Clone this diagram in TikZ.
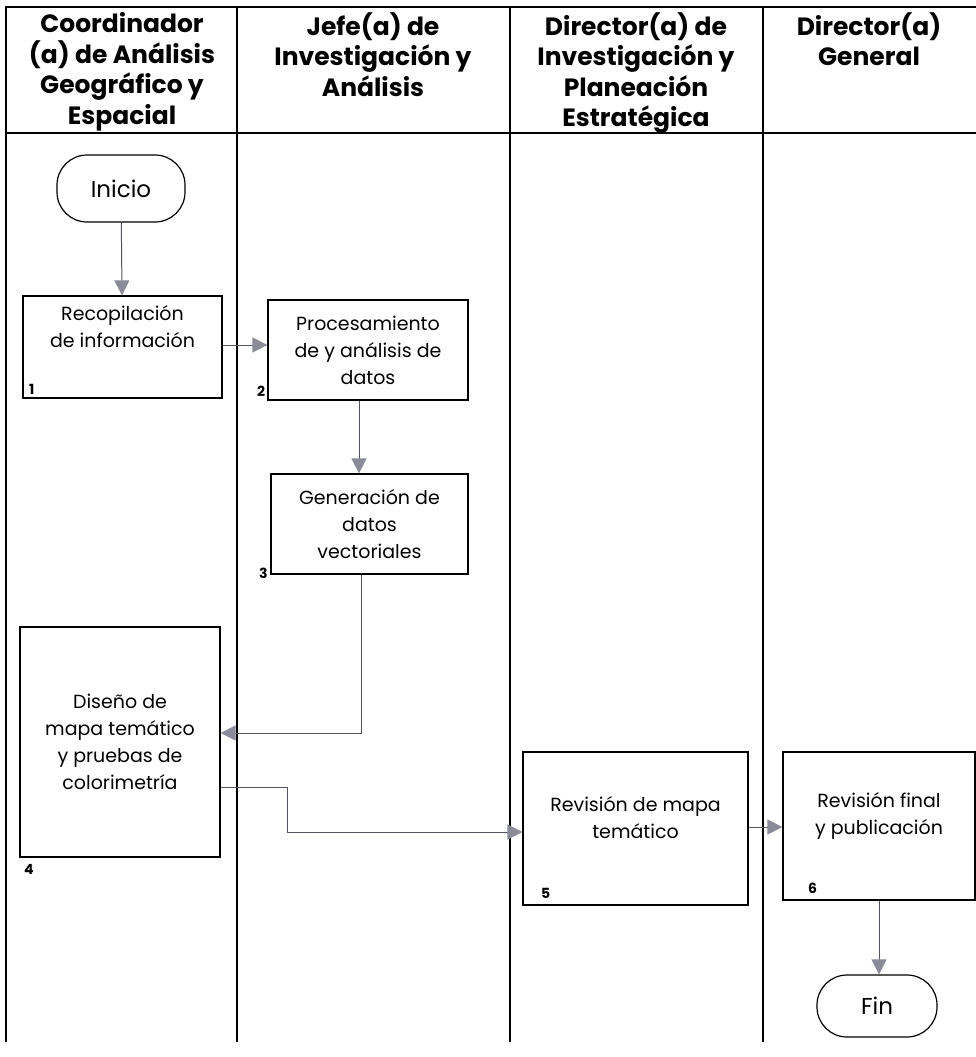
\documentclass[tikz,border=0pt]{standalone}
\usepackage{fontspec}
\setmainfont{Poppins}
\usetikzlibrary{arrows.meta,positioning}
\definecolor{arrowgray}{HTML}{8A8A98}
\definecolor{linegray}{HTML}{555560}
\tikzset{
  lane/.style={line width=1.8pt,black},
  bodyfont/.style={font=\fontsize{19}{27}\selectfont},
  procbox/.style={draw=black,line width=1.2pt,align=center,inner sep=2pt,bodyfont},
  plaintext/.style={align=center,bodyfont,anchor=north},
  termbox/.style={draw=black,line width=1.2pt,rounded corners=30pt,align=center,font=\fontsize{23}{28}\selectfont},
  hdr/.style={anchor=north,align=center,font=\fontsize{25}{30.5}\selectfont\bfseries},
  numlbl/.style={font=\fontsize{14}{14}\selectfont\bfseries,inner sep=0pt},
  conn/.style={draw=linegray,line width=1pt,-{Triangle[length=15pt,width=15pt,fill=arrowgray,color=arrowgray]}},
}
\begin{document}
\begin{tikzpicture}[x=1pt,y=-1pt]
\useasboundingbox (0,0) rectangle (976,1057);
% lanes
\draw[lane] (976,7) -- (6,7) -- (6,1042);
\draw[lane] (6,133) -- (976,133);
\draw[lane] (237,7) -- (237,1042);
\draw[lane] (510,7) -- (510,1042);
\draw[lane] (763,7) -- (763,1042);
% headers
\node[hdr] (h1) at (122,9) {Coordinador\\(a) de Análisis\\Geográfico y\\Espacial};
\node[hdr] (h2) at (373,9) {Jefe(a) de\\Investigación y\\Análisis};
\node[hdr] (h3) at (636,9) {Director(a) de\\Investigación y\\Planeación\\Estratégica};
\node[hdr] (h4) at (869,9) {Director(a)\\General};
% nodes
\node[termbox,minimum width=128pt,minimum height=67pt] (ini) at (121,188.5) {Inicio};
\node[procbox,minimum width=199pt,minimum height=102pt] (b1) at (122.5,347) {};
\node[plaintext] (t1) at (122.5,302) {Recopilación\\de información};
\node[procbox,minimum width=200pt,minimum height=100pt] (b2) at (368,350) {Procesamiento\\de y análisis de\\datos};
\node[procbox,minimum width=197pt,minimum height=100pt] (b3) at (369.5,524) {Generación de\\datos\\vectoriales};
\node[procbox,minimum width=200pt,minimum height=230pt] (b4) at (120,742) {Diseño de\\mapa temático\\y pruebas de\\colorimetría};
\node[procbox,minimum width=225pt,minimum height=153pt] (b5) at (635.5,828.5) {};
\node[plaintext] (t5) at (635.5,793) {Revisión de mapa\\temático};
\node[procbox,minimum width=192pt,minimum height=148pt] (b6) at (879,826) {};
\node[plaintext] (t6) at (879,789) {Revisión final\\y publicación};
\node[termbox,minimum width=120pt,minimum height=62pt] (fin) at (877,1006) {Fin};
% numbers
\node[numlbl,anchor=south west] (n1) at (29,395) {1};
\node[numlbl,anchor=south west] (n2) at (257,397) {2};
\node[numlbl,anchor=south west] (n3) at (259,579) {3};
\node[numlbl,anchor=south west] (n4) at (24,875) {4};
\node[numlbl,anchor=south west] (n5) at (541,899) {5};
\node[numlbl,anchor=south west] (n6) at (808,894) {6};
% connectors
\draw[conn] (ini) -- (b1);
\draw[conn] ([yshift=2pt]b1.east) -- ([yshift=2pt]b1.east -| b2.west);
\draw[conn] ([xshift=-9pt]b2.south) -- ([xshift=-9pt]b2.south |- b3.north);
\draw[conn] ([xshift=-8pt]b3.south) |- ([yshift=9pt]b4.east);
\draw[conn] ([yshift=-45pt]b4.east) -- ++(67,0) |- ([yshift=-3.5pt]b5.west);
\draw[conn] ([yshift=1.5pt]b5.east) -- ([yshift=1.5pt]b5.east -| b6.west);
\draw[conn] (b6.south) -- (b6.south |- fin.north);
\end{tikzpicture}
\end{document}
